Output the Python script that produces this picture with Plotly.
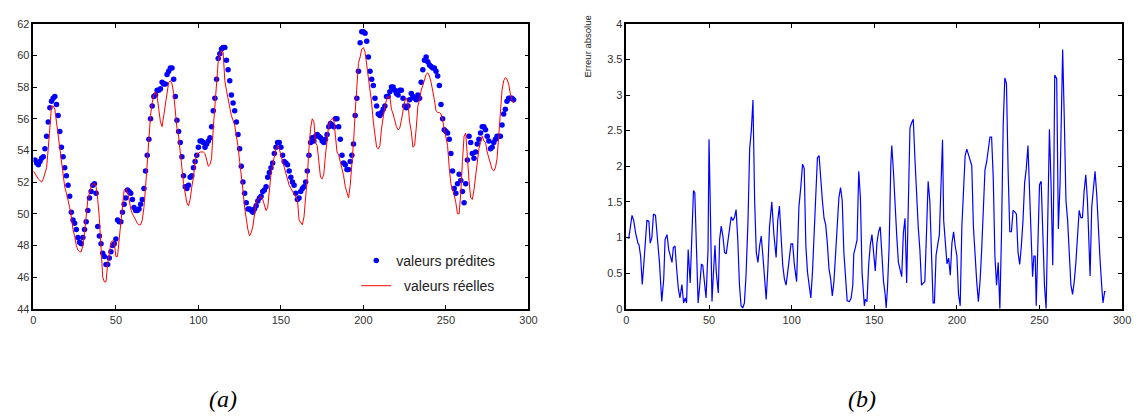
import plotly.graph_objects as go

# ---------------- data ----------------
real_x_start = 0
real_vals = [
    52.7, 52.5, 52.4, 52.2, 52.1, 52.0, 52.2, 52.5, 52.9, 54.1,
    55.7, 56.8, 56.8, 56.6, 55.8, 55.0, 54.3, 53.5, 52.5, 51.7,
    51.3, 50.9, 50.4, 49.8, 49.0, 48.6, 48.0, 47.7, 47.6, 47.6,
    48.0, 48.8, 50.0, 50.9, 51.3, 51.7, 51.9, 51.9, 51.7, 50.9,
    49.7, 48.0, 46.0, 45.7, 45.7, 46.8, 47.6, 48.2, 48.3, 48.2,
    47.3, 47.3, 48.4, 49.6, 50.4, 51.5, 51.6, 51.4, 50.9, 50.3,
    50.0, 49.8, 49.5, 49.4, 49.3, 49.3, 49.6, 50.4, 51.7, 53.3,
    54.9, 56.2, 57.0, 57.5, 57.7, 57.4, 56.6, 55.8, 55.5, 56.2,
    57.2, 57.9, 58.3, 58.4, 58.2, 57.6, 56.4, 55.4, 54.9, 53.7,
    52.9, 51.9, 51.3, 50.7, 50.5, 50.9, 51.7, 52.3, 53.3, 53.8,
    53.8, 53.9, 53.9, 53.9, 53.8, 53.3, 53.0, 53.1, 53.5, 55.4,
    57.0, 58.6, 59.6, 60.1, 60.3, 60.2, 58.4, 57.8, 57.2, 56.8,
    56.2, 55.9, 55.6, 54.9, 54.3, 53.3, 52.5, 51.5, 50.4, 49.6,
    49.0, 48.6, 48.8, 49.2, 50.0, 50.7, 50.9, 51.0, 51.1, 50.9,
    50.6, 50.2, 50.4, 51.5, 52.5, 53.1, 53.6, 54.1, 54.3, 54.1,
    53.7, 53.3, 52.9, 52.5, 52.1, 51.8, 51.6, 51.4, 51.2, 51.1,
    50.9, 49.6, 49.4, 49.3, 49.8, 50.9, 52.3, 54.1, 55.4, 56.0,
    55.8, 54.5, 54.3, 53.3, 52.3, 52.2, 52.5, 53.7, 54.9, 55.6,
    55.9, 56.0, 56.0, 54.9, 53.9, 53.7, 53.3, 52.9, 52.4, 51.7,
    51.3, 51.0, 51.8, 52.9, 54.5, 56.4, 58.4, 59.5, 59.9, 60.4,
    60.5, 60.2, 59.4, 58.6, 58.0, 57.0, 55.8, 54.9, 54.2, 54.1,
    54.3, 55.4, 56.2, 56.8, 57.2, 57.4, 57.4, 56.6, 56.3, 55.8,
    55.5, 55.3, 55.4, 55.9, 56.6, 57.1, 57.3, 57.0, 55.8, 55.2,
    54.2, 54.3, 55.4, 56.8, 57.2, 57.8, 58.1, 58.5, 58.8, 58.9,
    58.7, 58.3, 57.8, 57.2, 56.5, 56.4, 56.4, 56.3, 55.9, 55.4,
    54.9, 54.3, 52.9, 51.9, 51.5, 51.2, 50.7, 50.0, 50.0, 51.3,
    53.3, 54.9, 55.1, 53.3, 52.1, 51.0, 50.9, 51.5, 52.5, 53.3,
    54.1, 54.5, 54.9, 54.6, 54.5, 53.9, 53.5, 53.1, 52.8, 52.7,
    52.9, 53.5, 54.9, 56.4, 57.8, 58.4, 58.6, 58.5, 58.2, 57.6,
    57.2, 57.0,
]
real_x = list(range(real_x_start, real_x_start + len(real_vals)))

pred_x_start = 1
pred_vals = [
    53.4, 53.2, 53.1, 53.3, 53.5, 53.6, 54.1, 54.9, 55.8, 56.7,
    57.1, 57.3, 57.4, 56.9, 56.2, 55.2, 54.2, 53.6, 52.9, 52.4,
    51.8, 51.1, 50.1, 49.6, 49.4, 49.0, 48.5, 48.2, 48.1, 48.5,
    49.0, 49.5, 50.2, 51.0, 51.4, 51.8, 51.9, 51.3, 49.2, 48.6,
    48.1, 47.5, 47.3, 46.8, 46.8, 47.2, 47.6, 48.0, 48.1, 48.4,
    49.6, 49.5, 49.5, 50.1, 50.6, 51.0, 51.5, 51.4, 51.3, 50.9,
    50.4, 50.2, 50.2, 50.3, 50.6, 50.9, 51.6, 52.7, 53.7, 54.7,
    56.0, 56.8, 57.4, 57.5, 57.8, 57.8, 57.9, 58.3, 58.2, 58.2,
    58.8, 59.0, 59.2, 59.2, 58.5, 57.4, 55.9, 55.2, 54.5, 53.6,
    52.4, 51.7, 51.6, 51.8, 52.3, 52.4, 52.9, 53.3, 53.7, 54.2,
    54.6, 54.6, 54.5, 54.2, 54.4, 54.6, 54.8, 55.5, 56.5, 57.3,
    58.5, 59.8, 60.1, 60.4, 60.5, 60.5, 59.7, 59.1, 58.4, 57.5,
    57.0, 56.5, 55.8, 55.0, 54.1, 53.0, 52.0, 51.3, 50.7, 50.3,
    50.3, 50.2, 50.1, 50.3, 50.5, 50.8, 51.0, 51.1, 51.4, 51.5,
    51.7, 52.3, 52.6, 52.9, 53.2, 53.8, 54.2, 54.5, 54.5, 54.2,
    53.7, 53.3, 53.2, 53.1, 52.7, 52.3, 52.0, 51.8, 51.3, 50.9,
    51.0, 51.4, 51.6, 51.7, 52.0, 52.7, 53.7, 54.5, 54.8, 54.6,
    54.9, 55.0, 54.9, 54.8, 54.6, 54.5, 54.7, 55.0, 55.5, 55.7,
    55.6, 55.5, 56.0, 56.0, 55.5, 54.7, 53.7, 53.2, 53.1, 52.8,
    52.8, 53.3, 53.7, 54.4, 56.2, 57.3, 59.0, 60.8, 61.5, 61.5,
    61.4, 60.9, 59.9, 59.0, 58.5, 58.1, 57.3, 56.8, 56.3, 56.2,
    56.4, 56.6, 56.8, 57.4, 57.4, 57.7, 58.0, 58.0, 57.8, 57.6,
    57.5, 57.8, 57.8, 57.3, 56.8, 56.7, 56.8, 57.2, 57.6, 57.4,
    57.3, 57.2, 57.5, 57.3, 58.3, 59.1, 59.7, 59.9, 59.6, 59.4,
    59.3, 59.2, 59.2, 59.0, 58.7, 58.1, 56.9, 56.0, 55.3, 55.2,
    55.1, 54.7, 53.8, 52.7, 51.6, 51.3, 51.9, 52.5, 52.1, 51.4,
    50.7, 51.9, 53.4, 54.9, 54.5, 53.8, 53.5, 53.9, 54.4, 54.7,
    55.1, 55.5, 55.5, 55.3, 54.9, 54.6, 54.1, 54.2, 54.5, 54.7,
    54.9, 54.9, 54.9, 55.6, 56.3, 56.6, 57.1, 57.3, 57.3, 57.3,
    57.2,
]
pred_x = list(range(pred_x_start, pred_x_start + len(pred_vals)))

err_x = [
    0.6, 1.4, 2, 3.4, 4.4, 5.6, 7, 7.6, 8.6, 9.6, 10.6, 11.6, 12.4, 13.6, 14.4,
    15.4, 16.4, 17.6, 18.6, 20, 21.4, 22.6, 23.4, 24.6, 25.6, 26.6, 27.6, 28.4,
    29.4, 30.4, 31.4, 32.4, 33.6, 34.6, 35.6, 36.4, 37.4, 38.6, 39.6, 40.6, 41.4,
    42.4, 43.4, 44.4, 45.4, 46.2, 47.4, 48.2, 49.4, 50, 50.6, 51.8, 52.6, 53.6,
    54.4, 55.6, 56.4, 57.4, 58.4, 59.4, 60.4, 61.4, 62.6, 63.4, 64.4, 65.4, 66.4,
    67.4, 68.4, 69.4, 70.4, 71.4, 72.4, 73.6, 74.6, 75.6, 76.6, 77.6, 78.6, 79.6,
    80.6, 81.6, 82.6, 83.6, 84.6, 85.6, 86.6, 88, 89.2, 90.6, 91.6, 92.6, 93.6,
    94.6, 95.6, 96.6, 97.6, 98.6, 99.6, 100.6, 101.6, 103, 104.4, 105.6, 106.6,
    107.6, 108.6, 109.6, 110.6, 111.6, 112.6, 113.6, 114.6, 115.6, 116.6, 117.6,
    118.6, 119.6, 120.6, 121.6, 122.6, 123.6, 124.6, 125.6, 126.6, 127.6, 128.6,
    129.6, 130.6, 131.6, 132.6, 133.6, 135, 136, 137, 137.6, 138.6, 139.6, 140.6,
    141.6, 142.6, 143.6, 144, 144.6, 145.6, 146.6, 147.6, 148.6, 149.6, 150.6,
    151.6, 152.6, 153.6, 154.6, 155.6, 156.6, 157.2, 158, 159, 160, 160.6, 161.6,
    162.6, 163.6, 164.6, 165.6, 166.6, 167.6, 168.6, 169.6, 170.6, 171.6, 172.6,
    173.6, 174.6, 175.6, 176.6, 177.6, 178.6, 179.6, 180.6, 181.6, 182.6, 183.6,
    184.6, 185.6, 186.4, 187.4, 188.4, 189.4, 190.4, 191.3, 192, 193, 194, 195,
    196, 197, 198, 199, 200, 201, 202, 203, 204, 205, 206, 207, 208, 209, 210,
    211, 212, 213, 214, 215, 216, 217, 218, 219, 220, 221, 222, 223, 224, 225,
    226, 227, 228, 229, 230, 231, 232, 233, 234, 235, 236, 237, 238, 239, 240,
    241, 242, 243, 244, 245, 245.8, 246.6, 247.4, 248, 249, 250, 251, 252, 253,
    254, 255, 256, 257, 258, 258.6, 259.2, 260.4, 261.4, 262.4, 263.2, 264, 265,
    266, 267, 268, 269, 270, 271, 272, 273, 274, 275, 276, 277, 278, 279, 280,
    280.6, 281.6, 282.6, 283.6, 284.6, 285.6, 286.6, 287.6, 288.4, 289.4, 290,
]
err_vals = [
    1.0, 0.99, 1.08, 1.31, 1.24, 1.06, 0.92, 0.9, 0.74, 0.34, 0.65, 0.97, 1.24,
    1.23, 0.92, 1.0, 1.33, 1.31, 1.06, 0.65, 0.1, 0.42, 0.97, 1.04, 0.83, 0.72,
    0.65, 0.86, 0.88, 0.56, 0.29, 0.15, 0.34, 0.08, 0.15, 0.08, 0.83, 0.36, 0.97,
    1.66, 1.63, 0.97, 0.08, 0.33, 0.62, 0.61, 0.36, 0.15, 0.83, 2.38, 1.65, 0.1,
    0.47, 0.89, 0.51, 0.22, 0.97, 1.16, 1.02, 0.79, 0.77, 0.97, 1.15, 1.29, 1.24,
    1.28, 1.39, 0.97, 0.34, 0.04, 0.01, 0.08, 0.47, 1.24, 2.25, 2.5, 2.93, 1.52,
    0.79, 0.65, 0.88, 1.02, 0.74, 0.47, 0.13, 0.56, 1.15, 1.5, 1.06, 0.72, 1.24,
    1.44, 1.06, 0.61, 0.42, 0.33, 0.51, 0.7, 0.91, 0.91, 0.63, 0.38, 1.43, 1.72,
    2.03, 1.97, 0.88, 0.51, 0.33, 0.15, 0.51, 1.11, 1.65, 2.12, 2.15, 1.79, 1.52,
    1.27, 1.18, 0.92, 0.56, 0.42, 0.18, 0.38, 0.79, 1.15, 1.56, 1.7, 1.52, 0.79,
    0.47, 0.11, 0.1, 0.15, 0.33, 0.77, 0.86, 0.97, 1.93, 1.56, 0.51, 0.24, 0.04,
    0.13, 0.1, 0.61, 0.9, 1.04, 0.74, 0.53, 0.92, 1.08, 1.15, 0.79, 0.38, 0.2,
    0.01, 0.29, 0.88, 2.02, 2.29, 1.93, 1.38, 1.02, 0.65, 0.56, 0.45, 1.06, 1.27,
    0.36, 1.27, 2.54, 2.61, 2.66, 2.11, 1.52, 1.15, 0.83, 0.33, 0.36, 0.38, 1.06,
    1.79, 1.52, 0.7, 0.08, 0.08, 0.75, 0.9, 1.04, 1.75, 2.37, 1.24, 0.92, 0.63,
    0.71, 0.47, 0.92, 1.08, 0.88, 0.74, 0.2, 0.04, 1.15, 1.7, 2.15, 2.24, 2.15,
    2.09, 2.01, 1.15, 0.72, 0.38, 0.1, 0.38, 0.83, 1.52, 1.95, 2.06, 2.22, 2.41,
    2.41, 1.84, 0.74, 0.33, 0.65, 0.0, 1.06, 2.56, 3.24, 3.16, 1.93, 1.08, 1.08,
    1.38, 1.36, 1.33, 0.79, 0.62, 0.88, 1.24, 1.77, 1.97, 2.29, 1.56, 0.79, 0.45,
    0.74, 0.74, 0.04, 0.88, 1.74, 1.79, 1.06, 0.33, 0.0, 1.52, 2.52, 1.74, 0.61,
    1.7, 3.28, 3.23, 1.12, 1.74, 2.88, 3.64, 2.66, 1.52, 1.24, 0.7, 0.33, 0.2,
    0.38, 0.65, 1.02, 1.38, 1.28, 1.28, 1.65, 1.88, 1.52, 0.79, 0.46, 1.43, 1.65,
    1.93, 1.61, 1.06, 0.7, 0.33, 0.08, 0.24, 0.24,
]

x_ticks = [0, 50, 100, 150, 200, 250, 300]
y_ticks_a = [44, 46, 48, 50, 52, 54, 56, 58, 60, 62]
y_ticks_b = [0, 0.5, 1, 1.5, 2, 2.5, 3, 3.5, 4]
y_ticks_b_text = ["0", "0.5", "1", "1.5", "2", "2.5", "3", "3.5", "4"]

# ---------------- figure ----------------
W, H = 1145, 416
BLUE = "#0000FF"
RED = "#FF0000"
TICKFONT = dict(family="Liberation Sans, Arial, sans-serif", size=11, color="#333333")

fig = go.Figure()
fig.add_trace(go.Scatter(
    x=pred_x, y=pred_vals, mode="markers", name="valeurs prédites",
    marker=dict(color=BLUE, size=5.5, line=dict(width=0)),
    xaxis="x", yaxis="y", legendgroup="a",
))
fig.add_trace(go.Scatter(
    x=real_x, y=real_vals, mode="lines", name="\u00a0\u00a0valeurs réelles",
    line=dict(color=RED, width=1),
    xaxis="x", yaxis="y", legendgroup="b",
))
fig.add_trace(go.Scatter(
    x=err_x, y=err_vals, mode="lines", showlegend=False,
    line=dict(color=BLUE, width=1.2),
    xaxis="x2", yaxis="y2",
))

def px_x(p):
    return p / W

def px_y(p):
    return 1 - p / H

axis_common = dict(
    showgrid=False, zeroline=False, showline=True, linecolor="black", linewidth=1.5,
    mirror="ticks", ticks="inside", ticklen=4, tickwidth=1, tickcolor="black",
    tickfont=TICKFONT,
)

fig.update_layout(
    width=W, height=H, autosize=False,
    margin=dict(l=0, r=0, t=0, b=0, pad=0),
    paper_bgcolor="white", plot_bgcolor="white",
    xaxis=dict(domain=[px_x(30.7), px_x(531)], range=[0, 300], tickvals=x_ticks,
               anchor="y", **axis_common),
    yaxis=dict(domain=[px_y(311.7), px_y(18.3)], range=[44, 62], tickvals=y_ticks_a,
               anchor="x", **axis_common),
    xaxis2=dict(domain=[px_x(630), px_x(1131)], range=[0, 300], tickvals=x_ticks,
                anchor="y2", **axis_common),
    yaxis2=dict(domain=[px_y(311.7), px_y(18.3)], range=[0, 4], tickvals=y_ticks_b,
                ticktext=y_ticks_b_text, anchor="x2", **axis_common),
    showlegend=True,
    legend=dict(
        x=px_x(357), y=px_y(246), xanchor="left", yanchor="top",
        bgcolor="rgba(0,0,0,0)", borderwidth=0, tracegroupgap=4,
        font=dict(family="Liberation Sans, Arial, sans-serif", size=14, color="#222222"),
    ),
    annotations=[
        dict(text="Erreur absolue", x=px_x(591), y=px_y(8), xref="paper", yref="paper",
             xanchor="center", yanchor="top", textangle=-90, showarrow=False,
             font=dict(family="Liberation Sans, Arial, sans-serif", size=9.5, color="#222222")),
        dict(text="<i>(a)</i>", x=px_x(222), y=px_y(405), xref="paper", yref="paper",
             xanchor="center", yanchor="middle", showarrow=False,
             font=dict(family="Liberation Serif, Times New Roman, serif", size=24, color="black")),
        dict(text="<i>(b)</i>", x=px_x(868), y=px_y(405), xref="paper", yref="paper",
             xanchor="center", yanchor="middle", showarrow=False,
             font=dict(family="Liberation Serif, Times New Roman, serif", size=24, color="black")),
    ],
)

fig.write_html("out.html", config={"displayModeBar": False},
               post_script="document.body.style.margin='0';")
